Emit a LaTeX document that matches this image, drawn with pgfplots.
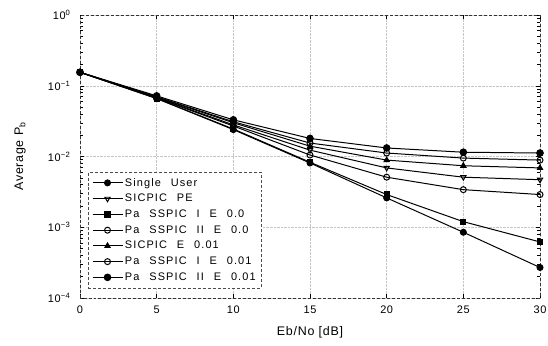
\documentclass[border=0pt]{standalone}
\usepackage{fontspec}
\setmainfont{Liberation Sans}
\newfontfamily\legfont{Liberation Sans}[LetterSpace=10, WordSpace=2.4]
\newfontfamily\labfont{Liberation Sans}[LetterSpace=6, WordSpace=1.6]
\newfontfamily\tickfont{Liberation Sans}[LetterSpace=6]
\usepackage{pgfplots}
\pgfplotsset{compat=1.18}
\begin{document}
\begin{tikzpicture}[x=1bp,y=1bp]
\useasboundingbox (-80,-47) rectangle (468,298);
\begin{axis}[
  at={(0,0)}, anchor=south west,
  scale only axis,
  width=460bp, height=283bp,
  ymode=log,
  xmin=0, xmax=30, ymin=1e-4, ymax=1,
  xtick={0,5,...,30},
  ytick={1e-4,1e-3,1e-2,1e-1,1},
  yticklabels={10\textsuperscript{−4},10\textsuperscript{−3},10\textsuperscript{−2},10\textsuperscript{−1},10\textsuperscript{0}},
  /pgf/number format/assume math mode=true,
  ticklabel style={font=\tickfont\fontsize{11}{13}\selectfont},
  yticklabel style={xshift=-6bp},
  xticklabel style={yshift=-4bp},
  xlabel={Eb/No [dB]},
  ylabel={Average P\textsubscript{b}},
  label style={font=\labfont\fontsize{12.5}{14}\selectfont},
  xlabel style={at={(axis description cs:0.5,0)}, anchor=north, yshift=-25bp},
  ylabel style={at={(axis description cs:-0.13,0.5)}, anchor=center},
  grid=major,
  major grid style={densely dotted, gray!45, line width=0.4pt},
  axis line style={black!80, densely dashed, line width=0.5pt},
  tick style={black, line width=0.5pt, solid},
  tick align=inside,
  minor tick num=0,
  legend style={at={(0.017,0.035)}, anchor=south west, draw=black!70, densely dashed,
    font=\legfont\fontsize{11}{12}\selectfont, row sep=2.6pt, inner sep=4pt,
    /tikz/every even column/.append style={column sep=4pt}},
  legend cell align=left,
  legend image code/.code={\draw[mark repeat=2,mark phase=2,solid] plot coordinates {(0bp,0bp) (15bp,0bp) (30bp,0bp)};},
  every axis plot/.append style={black, line width=1pt, solid},
  mark options={solid},
]
\addplot[mark=*, mark size=3pt] coordinates {(0,0.155)(5,0.066)(10,0.024)(15,0.0081)(20,0.0026)(25,0.00085)(30,0.00027)};
\addlegendentry{Single User}
\addplot[mark=triangle, mark size=3pt, mark options={rotate=180, fill=white}] coordinates {(0,0.155)(5,0.068)(10,0.028)(15,0.0123)(20,0.0069)(25,0.0051)(30,0.0047)};
\addlegendentry{SICPIC PE}
\addplot[mark=square*, mark size=2.6pt] coordinates {(0,0.155)(5,0.066)(10,0.0245)(15,0.0083)(20,0.0029)(25,0.0012)(30,0.00062)};
\addlegendentry{Pa SSPIC I E 0.0}
\addplot[mark=o, mark size=3pt, mark options={fill=white}] coordinates {(0,0.155)(5,0.067)(10,0.027)(15,0.0105)(20,0.0051)(25,0.0034)(30,0.0029)};
\addlegendentry{Pa SSPIC II E 0.0}
\addplot[mark=triangle*, mark size=3pt] coordinates {(0,0.155)(5,0.069)(10,0.030)(15,0.014)(20,0.0089)(25,0.0074)(30,0.0069)};
\addlegendentry{SICPIC E 0.01}
\addplot[mark=o, mark size=3pt, mark options={fill=white}] coordinates {(0,0.155)(5,0.070)(10,0.031)(15,0.0155)(20,0.0112)(25,0.0095)(30,0.0089)};
\addlegendentry{Pa SSPIC I E 0.01}
\addplot[mark=*, mark size=3.3pt] coordinates {(0,0.155)(5,0.072)(10,0.033)(15,0.018)(20,0.0132)(25,0.0115)(30,0.0112)};
\addlegendentry{Pa SSPIC II E 0.01}
\end{axis}
\end{tikzpicture}
\end{document}
